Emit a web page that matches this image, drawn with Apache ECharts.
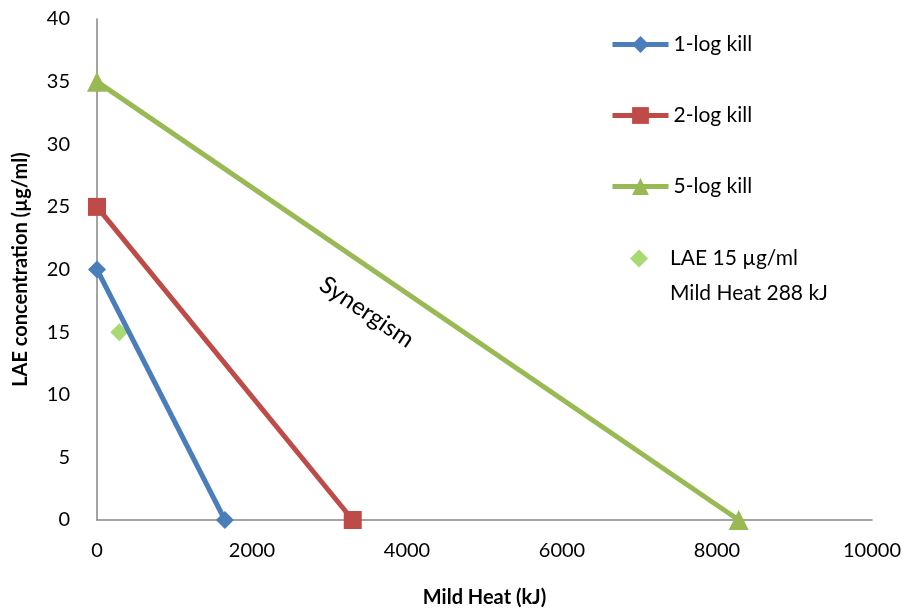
<!DOCTYPE html>
<html>
<head>
<meta charset="utf-8">
<script src="https://cdn.jsdelivr.net/npm/echarts@6/dist/echarts.min.js"></script>
<style>
  html, body { margin: 0; padding: 0; background: #fff; }
  #chart { width: 908px; height: 613px; }
</style>
</head>
<body>
<div id="chart"></div>
<script>
// data
var oneLog = [[0, 20], [1650, 0]];
var twoLog = [[0, 25], [3300, 0]];
var fiveLog = [[0, 35], [8280, 0]];
var laePoint = [[288, 15]];
var xTicks = { min: 0, max: 10000, interval: 2000 };
var yTicks = { min: 0, max: 40, interval: 5 };
var noteText = "Synergism";
var notePos = [3480, 16.6];

var font = "Lato";

function legendBox(name, top) {
    return {
        data: [name],
        orient: "vertical",
        left: 610,
        top: top,
        padding: 0,
        itemWidth: 56,
        itemHeight: 21,
        itemGap: 0,
        lineStyle: { width: 5 },
        textStyle: { fontFamily: font, fontSize: 21, color: "#000" }
    };
}

var option = {
    animation: false,
    backgroundColor: "#fff",
    grid: { left: 97, right: 36, top: 19, bottom: 93 },
    legend: [
        legendBox("1-log kill", 34),
        legendBox("2-log kill", 105),
        legendBox("5-log kill", 176),
        {
            data: ["LAE 15 µg/ml\nMild Heat 288 kJ"],
            // blank first line keeps the marker level with the first text line
            formatter: function (name) { return " \n" + name; },
            left: 630,
            top: 206,
            padding: 0,
            itemWidth: 18,
            itemHeight: 18,
            itemGap: 0,
            textStyle: { fontFamily: font, fontSize: 21, color: "#000", lineHeight: 35, padding: [0, 0, 0, 17] }
        }
    ],
    xAxis: {
        type: "value",
        min: xTicks.min, max: xTicks.max, interval: xTicks.interval,
        name: "Mild Heat (kJ)",
        nameLocation: "middle",
        nameGap: 68,
        nameTextStyle: { fontFamily: font, fontSize: 20, fontWeight: "bold", color: "#000" },
        axisLine: { lineStyle: { color: "#868686", width: 1.5 } },
        axisTick: { show: false },
        splitLine: { show: false },
        axisLabel: { fontFamily: font, fontSize: 20, color: "#000", margin: 21,
            formatter: function (v) { return String(v); } }
    },
    yAxis: {
        type: "value",
        min: yTicks.min, max: yTicks.max, interval: yTicks.interval,
        name: "LAE concentration (µg/ml)",
        nameLocation: "middle",
        nameGap: 66,
        nameTextStyle: { fontFamily: font, fontSize: 20, fontWeight: "bold", color: "#000" },
        axisLine: { show: true, lineStyle: { color: "#868686", width: 1.5 } },
        axisTick: { show: false },
        splitLine: { show: false },
        axisLabel: { fontFamily: font, fontSize: 20, color: "#000", margin: 27 }
    },
    series: [
        {
            name: "1-log kill", type: "line", data: oneLog,
            symbol: "diamond", symbolSize: 18,
            lineStyle: { color: "#4A7EBB", width: 5 },
            itemStyle: { color: "#4A7EBB" }
        },
        {
            name: "2-log kill", type: "line", data: twoLog,
            symbol: "rect", symbolSize: 18,
            lineStyle: { color: "#BE4B48", width: 5 },
            itemStyle: { color: "#BE4B48" }
        },
        {
            name: "5-log kill", type: "line", data: fiveLog,
            symbol: "triangle", symbolSize: 20,
            lineStyle: { color: "#98B954", width: 5 },
            itemStyle: { color: "#98B954" }
        },
        {
            name: "LAE 15 µg/ml\nMild Heat 288 kJ", type: "scatter", data: laePoint,
            symbol: "diamond", symbolSize: 18,
            itemStyle: { color: "#92D050" }
        }
    ]
};

var chart = echarts.init(document.getElementById("chart"));
chart.setOption(option);

var p = chart.convertToPixel({ gridIndex: 0 }, notePos);
chart.setOption({
    graphic: [{
        type: "text",
        x: p[0], y: p[1],
        rotation: -34 * Math.PI / 180,
        style: {
            text: noteText, fontFamily: font, fontSize: 24, fill: "#000",
            align: "center", verticalAlign: "middle"
        }
    }]
});
</script>
</body>
</html>
